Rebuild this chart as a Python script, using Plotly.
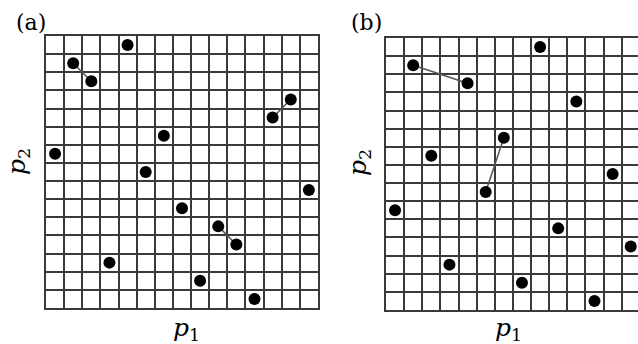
import plotly.graph_objects as go

# ------------------------------------- Data -------------------------------------------
# Cell indices of the points (column = p1, row = p2, counted from bottom-left cell)
a_p1 = [4, 1, 2, 13, 12, 6, 0, 5, 14, 7, 9, 10, 3, 8, 11]
a_p2 = [14, 13, 12, 11, 10, 9, 8, 7, 6, 5, 4, 3, 2, 1, 0]
a_links = [(1, 2), (3, 4), (10, 11)]

b_p1 = [8, 1, 4, 10, 14, 6, 2, 12, 5, 0, 9, 13, 3, 7, 11]
b_p2 = [14, 13, 12, 11, 10, 9, 8, 7, 6, 5, 4, 3, 2, 1, 0]
b_links = [(1, 2), (5, 8)]

n_cells = 15
W, H = 638, 344


def px(x):
    return x / W


def py(y):
    return 1 - y / H


fig = go.Figure()


def add_panel(p1, p2, links, xa, ya):
    # connecting lines first so the dots sit on top
    for i, j in links:
        fig.add_trace(go.Scatter(
            x=[p1[i] + 0.5, p1[j] + 0.5], y=[p2[i] + 0.5, p2[j] + 0.5],
            mode="lines", line=dict(color="#555555", width=1.5),
            xaxis=xa, yaxis=ya, showlegend=False, hoverinfo="skip"))
    fig.add_trace(go.Scatter(
        x=[v + 0.5 for v in p1], y=[v + 0.5 for v in p2],
        mode="markers", marker=dict(color="black", size=12),
        xaxis=xa, yaxis=ya, showlegend=False))


add_panel(a_p1, a_p2, a_links, "x", "y")
add_panel(b_p1, b_p2, b_links, "x2", "y2")

grid = dict(showgrid=True, gridcolor="#3a3a3a", gridwidth=2, dtick=1, tick0=0,
            showticklabels=False, ticks="", zeroline=False,
            showline=True, linecolor="#3a3a3a", linewidth=2)

cell = 18.13
fig.update_layout(
    width=W, height=H,
    margin=dict(l=0, r=0, t=0, b=0),
    paper_bgcolor="white", plot_bgcolor="white",
    xaxis=dict(grid, domain=[px(46), px(46 + n_cells * cell)], range=[0, n_cells],
               mirror=True, anchor="y"),
    yaxis=dict(grid, domain=[py(36 + n_cells * cell), py(36)], range=[0, n_cells],
               mirror=True, anchor="x"),
    xaxis2=dict(grid, domain=[px(386), 1.0], range=[0, (W - 386) / cell],
                mirror=True, anchor="y2"),
    yaxis2=dict(grid, domain=[py(38 + n_cells * cell), py(38)], range=[0, n_cells],
                mirror=False, anchor="x2"),
)

serif = "DejaVu Serif, Liberation Serif, serif"
notes = [
    ("(a)", 31, 22, 0, 22), ("(b)", 367, 22, 0, 22),
    ("<i>p</i><sub>2</sub>", 18, 162, -90, 25), ("<i>p</i><sub>2</sub>", 359, 163, -90, 25),
    ("<i>p</i><sub>1</sub>", 186, 329, 0, 25), ("<i>p</i><sub>1</sub>", 508, 329, 0, 25),
]
for text, x, y, ang, size in notes:
    fig.add_annotation(text=text, x=px(x), y=py(y), xref="paper", yref="paper",
                       showarrow=False, textangle=ang,
                       font=dict(family=serif, size=size, color="black"),
                       xanchor="center", yanchor="middle")

fig.write_html("out.html", config={"displayModeBar": False},
               post_script="document.body.style.margin='0';")
